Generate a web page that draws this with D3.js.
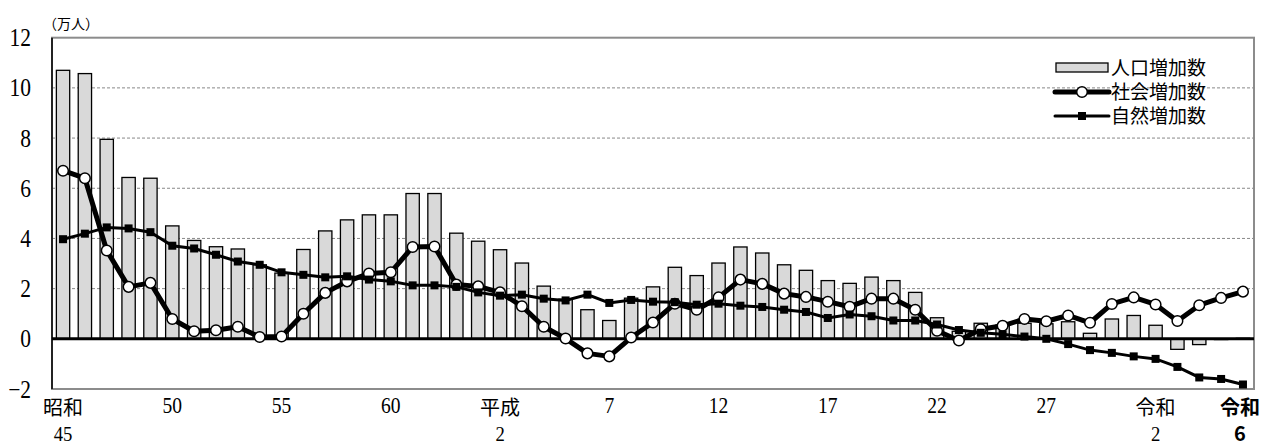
<!DOCTYPE html>
<html>
<head>
<meta charset="utf-8">
<script src="https://cdn.jsdelivr.net/npm/d3@7"></script>
<style>
  body { margin: 0; background: #fff; }
  svg { display: block; }
</style>
</head>
<body>
<svg id="chart" width="1268" height="447"></svg>
<script>
const years = [1970, 1971, 1972, 1973, 1974, 1975, 1976, 1977, 1978, 1979,
    1980, 1981, 1982, 1983, 1984, 1985, 1986, 1987, 1988, 1989,
    1990, 1991, 1992, 1993, 1994, 1995, 1996, 1997, 1998, 1999,
    2000, 2001, 2002, 2003, 2004, 2005, 2006, 2007, 2008, 2009,
    2010, 2011, 2012, 2013, 2014, 2015, 2016, 2017, 2018, 2019,
    2020, 2021, 2022, 2023, 2024];

// 人口増加数（万人）
const totalIncrease = [10.7, 10.57, 7.95, 6.43, 6.40, 4.50, 3.92, 3.67, 3.58, 2.95,
    2.62, 3.56, 4.30, 4.74, 4.94, 4.94, 5.79, 5.79, 4.21, 3.89,
    3.55, 3.02, 2.10, 1.58, 1.16, 0.73, 1.62, 2.07, 2.85, 2.52,
    3.02, 3.66, 3.42, 2.95, 2.73, 2.32, 2.21, 2.46, 2.32, 1.85,
    0.84, 0.30, 0.62, 0.55, 0.62, 0.60, 0.68, 0.22, 0.79, 0.93,
    0.54, -0.42, -0.23, -0.03, 0.02];

// 社会増加数
const socialIncrease = [6.70, 6.40, 3.52, 2.07, 2.23, 0.79, 0.30, 0.34, 0.48, 0.07,
    0.09, 1.00, 1.83, 2.29, 2.60, 2.65, 3.66, 3.68, 2.16, 2.09,
    1.85, 1.30, 0.48, 0.01, -0.58, -0.70, 0.05, 0.65, 1.40, 1.16,
    1.65, 2.36, 2.19, 1.80, 1.67, 1.48, 1.28, 1.60, 1.60, 1.16,
    0.32, -0.07, 0.38, 0.52, 0.79, 0.70, 0.93, 0.64, 1.39, 1.65,
    1.37, 0.71, 1.34, 1.63, 1.88];

// 自然増加数
const naturalIncrease = [3.97, 4.19, 4.44, 4.40, 4.25, 3.71, 3.60, 3.35, 3.08, 2.95,
    2.65, 2.55, 2.45, 2.49, 2.36, 2.29, 2.13, 2.13, 2.07, 1.85,
    1.72, 1.76, 1.60, 1.53, 1.76, 1.43, 1.55, 1.48, 1.46, 1.36,
    1.40, 1.32, 1.27, 1.16, 1.07, 0.83, 0.97, 0.90, 0.73, 0.73,
    0.57, 0.35, 0.24, 0.18, 0.09, 0.00, -0.21, -0.45, -0.56, -0.70,
    -0.80, -1.12, -1.54, -1.60, -1.82];

const yTicks = [-2, 0, 2, 4, 6, 8, 10, 12];

const tickYears = [1970, 1975, 1980, 1985, 1990, 1995, 2000, 2005, 2010, 2015, 2020, 2024];
const tickTop = ["昭和", "50", "55", "60", "平成", "7", "12", "17", "22", "27", "令和", "令和"];
const tickBottom = ["45", "", "", "", "2", "", "", "", "", "", "2", "6"];

const legendNames = ["人口増加数", "社会増加数", "自然増加数"];

const serif = "'Liberation Serif', 'DejaVu Serif', serif";
const gothic = "'Noto Sans CJK JP', 'Noto Sans', sans-serif";

const svg = d3.select("#chart");

const plotLeft = 52, plotRight = 1254, plotTop = 37.7, plotBottom = 389;

const x = d3.scaleBand()
    .domain(years)
    .range([plotLeft, plotRight])
    .paddingInner(0.39)
    .paddingOuter(0.2);

const y = d3.scaleLinear()
    .domain([-2, 12])
    .range([plotBottom, plotTop]);

const cx = d => x(d) + x.bandwidth() / 2;

// grid lines
svg.append("g")
    .selectAll("line")
    .data(yTicks.filter(t => t > 0 && t < 12))
    .join("line")
    .attr("x1", plotLeft)
    .attr("x2", plotRight)
    .attr("y1", d => y(d))
    .attr("y2", d => y(d))
    .attr("stroke", "#888")
    .attr("stroke-width", 1)
    .attr("stroke-dasharray", "3,2");

// bars
svg.append("g")
    .selectAll("rect")
    .data(years)
    .join("rect")
    .attr("x", d => x(d))
    .attr("width", x.bandwidth())
    .attr("y", (d, i) => y(Math.max(0, totalIncrease[i])))
    .attr("height", (d, i) => Math.abs(y(totalIncrease[i]) - y(0)))
    .attr("fill", "#d9d9d9")
    .attr("stroke", "#000")
    .attr("stroke-width", 1.3);

// frame
svg.append("rect")
    .attr("x", plotLeft)
    .attr("y", plotTop)
    .attr("width", plotRight - plotLeft)
    .attr("height", plotBottom - plotTop)
    .attr("fill", "none")
    .attr("stroke", "#8c8c8c")
    .attr("stroke-width", 2);

svg.append("line")
    .attr("x1", plotLeft).attr("x2", plotLeft)
    .attr("y1", plotTop).attr("y2", plotBottom)
    .attr("stroke", "#000")
    .attr("stroke-width", 1.5);

// zero line
svg.append("line")
    .attr("x1", plotLeft).attr("x2", plotRight)
    .attr("y1", y(0)).attr("y2", y(0))
    .attr("stroke", "#000")
    .attr("stroke-width", 3);

const line = d3.line()
    .x(d => cx(d[0]))
    .y(d => y(d[1]));

// social increase
svg.append("path")
    .datum(years.map((d, i) => [d, socialIncrease[i]]))
    .attr("d", line)
    .attr("fill", "none")
    .attr("stroke", "#000")
    .attr("stroke-width", 5)
    .attr("stroke-linejoin", "round");

svg.append("g")
    .selectAll("circle")
    .data(years)
    .join("circle")
    .attr("cx", d => cx(d))
    .attr("cy", (d, i) => y(socialIncrease[i]))
    .attr("r", 5.3)
    .attr("fill", "#fff")
    .attr("stroke", "#000")
    .attr("stroke-width", 1.5);

// natural increase
svg.append("path")
    .datum(years.map((d, i) => [d, naturalIncrease[i]]))
    .attr("d", line)
    .attr("fill", "none")
    .attr("stroke", "#000")
    .attr("stroke-width", 3);

svg.append("g")
    .selectAll("rect")
    .data(years)
    .join("rect")
    .attr("x", d => cx(d) - 4)
    .attr("y", (d, i) => y(naturalIncrease[i]) - 4)
    .attr("width", 8)
    .attr("height", 8)
    .attr("fill", "#000");

// y tick labels (narrow mincho-like digits)
svg.append("g")
    .selectAll("text")
    .data(yTicks)
    .join("text")
    .attr("transform", d => `translate(31,${y(d)}) scale(0.86,1)`)
    .attr("dy", "0.34em")
    .attr("text-anchor", "end")
    .attr("font-family", serif)
    .attr("font-size", 25)
    .text(d => d < 0 ? "−" + Math.abs(d) : d);

svg.append("text")
    .attr("x", 43)
    .attr("y", 29)
    .attr("font-family", gothic)
    .attr("font-size", 14)
    .text("（万人）");

// x tick labels
tickYears.forEach((yr, k) => {
    const isLast = k === tickYears.length - 1;
    const two = tickBottom[k] !== "";
    const px = cx(yr) - (isLast ? 3 : 0);
    if (two) {
        svg.append("text")
            .attr("x", px)
            .attr("y", 415)
            .attr("text-anchor", "middle")
            .attr("font-family", gothic)
            .attr("font-weight", isLast ? "bold" : "normal")
            .attr("font-size", 20)
            .text(tickTop[k]);
        if (isLast) {
            svg.append("text")
                .attr("x", px)
                .attr("y", 441)
                .attr("text-anchor", "middle")
                .attr("font-family", gothic)
                .attr("font-weight", "bold")
                .attr("font-size", 20)
                .text(tickBottom[k]);
        } else {
            svg.append("text")
                .attr("transform", `translate(${px},441) scale(0.85,1)`)
                .attr("text-anchor", "middle")
                .attr("font-family", serif)
                .attr("font-size", 22)
                .text(tickBottom[k]);
        }
    } else {
        svg.append("text")
            .attr("transform", `translate(${px},413) scale(0.85,1)`)
            .attr("text-anchor", "middle")
            .attr("font-family", serif)
            .attr("font-size", 23)
            .text(tickTop[k]);
    }
});

// legend
const legend = svg.append("g");
const lx1 = 1055, lx2 = 1109, lmid = 1082;
const rowY = [68, 92, 116];

legend.append("rect")
    .attr("x", lx1 + 1)
    .attr("y", rowY[0] - 5)
    .attr("width", lx2 - lx1 - 2)
    .attr("height", 9)
    .attr("fill", "#d9d9d9")
    .attr("stroke", "#000")
    .attr("stroke-width", 1.3);

legend.append("line")
    .attr("x1", lx1).attr("x2", lx2)
    .attr("y1", rowY[1]).attr("y2", rowY[1])
    .attr("stroke", "#000").attr("stroke-width", 5)
    .attr("stroke-linecap", "round");
legend.append("circle")
    .attr("cx", lmid).attr("cy", rowY[1]).attr("r", 5.3)
    .attr("fill", "#fff").attr("stroke", "#000").attr("stroke-width", 1.5);

legend.append("line")
    .attr("x1", lx1).attr("x2", lx2)
    .attr("y1", rowY[2]).attr("y2", rowY[2])
    .attr("stroke", "#000").attr("stroke-width", 3)
    .attr("stroke-linecap", "round");
legend.append("rect")
    .attr("x", lmid - 4).attr("y", rowY[2] - 4)
    .attr("width", 8).attr("height", 8)
    .attr("fill", "#000");

legend.selectAll("text")
    .data(legendNames)
    .join("text")
    .attr("x", 1111)
    .attr("y", (d, i) => rowY[i])
    .attr("dy", "0.36em")
    .attr("font-family", gothic)
    .attr("font-size", 19)
    .text(d => d);
</script>
</body>
</html>
